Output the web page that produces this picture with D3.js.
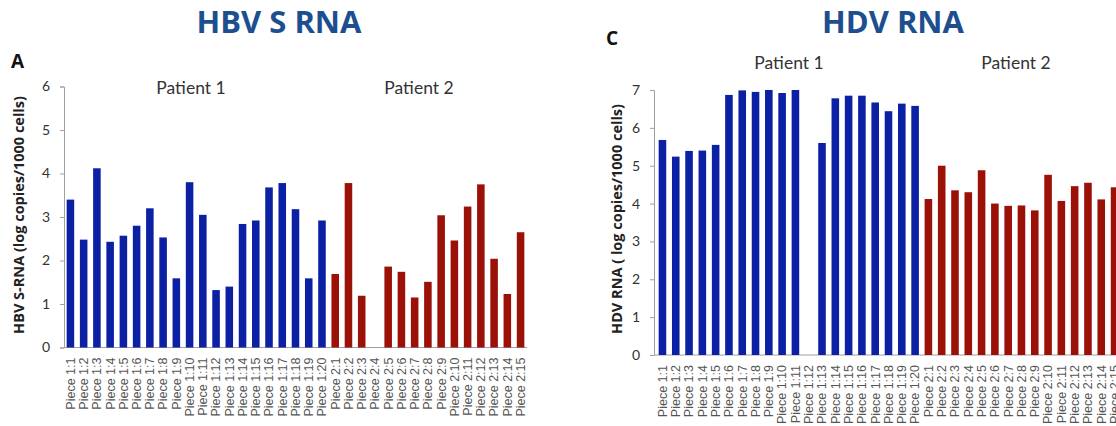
<!DOCTYPE html>
<html>
<head>
<meta charset="utf-8">
<script src="https://cdn.jsdelivr.net/npm/d3@7"></script>
<style>
  body { margin: 0; background: #fff; }
  svg { display: block; }
</style>
</head>
<body>
<svg id="chart" width="1116" height="426"></svg>
<script>
// categories
const p1Pieces = ["Piece 1:1", "Piece 1:2", "Piece 1:3", "Piece 1:4", "Piece 1:5",
  "Piece 1:6", "Piece 1:7", "Piece 1:8", "Piece 1:9", "Piece 1:10", "Piece 1:11",
  "Piece 1:12", "Piece 1:13", "Piece 1:14", "Piece 1:15", "Piece 1:16", "Piece 1:17",
  "Piece 1:18", "Piece 1:19", "Piece 1:20"];
const p2Pieces = ["Piece 2:1", "Piece 2:2", "Piece 2:3", "Piece 2:4", "Piece 2:5",
  "Piece 2:6", "Piece 2:7", "Piece 2:8", "Piece 2:9", "Piece 2:10", "Piece 2:11",
  "Piece 2:12", "Piece 2:13", "Piece 2:14", "Piece 2:15"];

// values (log copies / 1000 cells)
const hbvP1 = [3.4, 2.48, 4.12, 2.43, 2.57, 2.8, 3.2, 2.53, 1.59, 3.8,
  3.05, 1.32, 1.4, 2.84, 2.92, 3.68, 3.78, 3.18, 1.59, 2.92];
const hbvP2 = [1.69, 3.78, 1.19, 0, 1.86, 1.74, 1.15, 1.51, 3.04, 2.46,
  3.24, 3.75, 2.04, 1.23, 2.65];
const hdvP1 = [5.68, 5.24, 5.39, 5.4, 5.55, 6.87, 6.99, 6.95, 7.0, 6.92,
  7.0, 0, 5.6, 6.78, 6.85, 6.85, 6.67, 6.44, 6.64, 6.58];
const hdvP2 = [4.12, 5.0, 4.35, 4.3, 4.88, 4.0, 3.94, 3.95, 3.82, 4.76,
  4.07, 4.46, 4.55, 4.11, 4.43];

const hbvTicks = [0, 1, 2, 3, 4, 5, 6];
const hdvTicks = [0, 1, 2, 3, 4, 5, 6, 7];

const blue = "#0b20a3", red = "#9b1107", axisGrey = "#a0a0a0";

const svg = d3.select("#chart");

function panel(cfg) {
  const rows = cfg.p1.map((v, i) => ({ name: p1Pieces[i], v, pat: 1 }))
    .concat(cfg.p2.map((v, i) => ({ name: p2Pieces[i], v, pat: 2 })));

  const x = d3.scaleBand()
    .domain(rows.map(d => d.name))
    .range(cfg.xr)
    .paddingInner(0.43)
    .paddingOuter(0.2);
  const y = d3.scaleLinear().domain([0, d3.max(cfg.ticks)]).range(cfg.yr);

  const g = svg.append("g");

  // y axis
  const gy = g.append("g")
    .attr("transform", `translate(${cfg.ax},0)`)
    .call(d3.axisLeft(y).tickValues(cfg.ticks).tickSize(4).tickPadding(10).tickFormat(d3.format("d")));
  gy.select(".domain").attr("stroke", axisGrey);
  gy.selectAll(".tick line").attr("stroke", axisGrey);
  gy.selectAll(".tick text")
    .attr("fill", "#333")
    .style("font-family", "Lato, 'Open Sans', sans-serif")
    .style("font-size", "14px");

  // baseline
  g.append("line")
    .attr("x1", cfg.ax).attr("x2", cfg.xr[1])
    .attr("y1", y(0)).attr("y2", y(0))
    .attr("stroke", axisGrey);

  // bars
  g.selectAll("rect.bar")
    .data(rows.filter(d => d.v > 0))
    .join("rect")
    .attr("class", "bar")
    .attr("x", d => x(d.name))
    .attr("width", x.bandwidth())
    .attr("y", d => y(d.v))
    .attr("height", d => y(0) - y(d.v))
    .attr("fill", d => d.pat === 1 ? blue : red);

  // category labels
  g.selectAll("text.cat")
    .data(rows)
    .join("text")
    .attr("class", "cat")
    .attr("transform", d => `translate(${x(d.name) + x.bandwidth() / 2},${y(0) + 10}) rotate(-90)`)
    .attr("text-anchor", "end")
    .attr("dy", "0.35em")
    .attr("fill", "#555")
    .style("font-family", "'Liberation Sans', Arial, sans-serif")
    .style("font-size", "12.5px")
    .text(d => d.name);

  // y title
  g.append("text")
    .attr("transform", `translate(${cfg.ytx},${cfg.yty}) rotate(-90)`)
    .attr("text-anchor", "middle")
    .attr("dy", "0.35em")
    .attr("fill", "#222")
    .style("font-family", "'Open Sans', sans-serif")
    .style("font-weight", "700")
    .style("font-size", "14.5px")
    .text(cfg.ytitle);

  // patient labels
  cfg.patients.forEach(p => {
    g.append("text")
      .attr("x", p.x).attr("y", p.y)
      .attr("text-anchor", "middle")
      .attr("fill", "#333")
      .style("font-family", "Lato, 'Open Sans', sans-serif")
      .style("font-size", "17.5px")
      .text(p.t);
  });

  // panel letter
  g.append("text")
    .attr("x", cfg.letter.x).attr("y", cfg.letter.y)
    .attr("fill", "#111")
    .style("font-family", "'Open Sans', sans-serif")
    .style("font-weight", "700")
    .style("font-size", "19px")
    .text(cfg.letter.t);

  // title
  g.append("text")
    .attr("x", cfg.title.x).attr("y", cfg.title.y)
    .attr("text-anchor", "middle")
    .attr("fill", "#1d4f8f")
    .style("font-family", "'Open Sans', sans-serif")
    .style("font-weight", "700")
    .style("font-size", "31px")
    .text(cfg.title.t);
}

panel({
  p1: hbvP1, p2: hbvP2, ticks: hbvTicks,
  xr: [64, 527], yr: [347.5, 86.5], ax: 64,
  ytitle: "HBV S-RNA (log copies/1000 cells)", ytx: 19, yty: 215,
  patients: [{ t: "Patient 1", x: 191, y: 94 }, { t: "Patient 2", x: 419, y: 94 }],
  letter: { t: "A", x: 11, y: 68 },
  title: { t: "HBV S RNA", x: 279, y: 33 }
});

panel({
  p1: hdvP1, p2: hdvP2, ticks: hdvTicks,
  xr: [656, 1121], yr: [355, 90], ax: 654,
  ytitle: "HDV RNA ( log copies/1000 cells)", ytx: 617, yty: 219,
  patients: [{ t: "Patient 1", x: 789, y: 69 }, { t: "Patient 2", x: 1016, y: 69 }],
  letter: { t: "C", x: 606, y: 45 },
  title: { t: "HDV RNA", x: 893, y: 33 }
});
</script>
</body>
</html>
